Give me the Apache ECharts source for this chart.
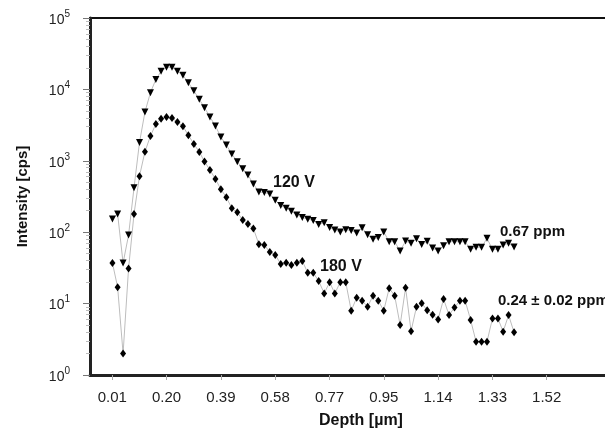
<!DOCTYPE html>
<html>
<head>
<meta charset="utf-8">
<script src="https://cdn.jsdelivr.net/npm/echarts@6/dist/echarts.min.js"></script>
<style>
    html, body { margin: 0; padding: 0; background: #fff; }
    #chart { width: 605px; height: 439px; }
</style>
</head>
<body>
<div id="chart"></div>
<script>
// depth of each measured point [um]
var depth = [
    0.011, 0.029, 0.048, 0.067, 0.086, 0.105, 0.124, 0.143, 0.162, 0.180,
    0.199, 0.218, 0.237, 0.256, 0.275, 0.294, 0.313, 0.331, 0.350, 0.369,
    0.388, 0.407, 0.426, 0.445, 0.464, 0.482, 0.501, 0.520, 0.539, 0.558,
    0.577, 0.596, 0.615, 0.633, 0.652, 0.671, 0.690, 0.709, 0.728, 0.747,
    0.766, 0.784, 0.803, 0.822, 0.841, 0.860, 0.879, 0.898, 0.917, 0.935,
    0.954, 0.973, 0.992, 1.011, 1.030, 1.049, 1.068, 1.086, 1.105, 1.124,
    1.143, 1.162, 1.181, 1.200, 1.219, 1.237, 1.256, 1.275, 1.294, 1.313,
    1.332, 1.351, 1.369, 1.388, 1.407
];
// intensity [cps], 120 V
var v120 = [
    153, 180, 37, 91, 420, 1800, 4820, 9000, 13800, 17900,
    20400, 20400, 17900, 15800, 12400, 9560, 7250, 5550, 4120, 3070,
    2150, 1660, 1250, 970, 775, 632, 473, 366, 360, 343,
    280, 237, 216, 197, 174, 161, 152, 146, 128, 136,
    116, 107, 101, 108, 106, 97.5, 115, 92, 79.5, 84,
    101, 73.6, 73.6, 54.5, 75, 70, 81, 67, 74.6, 60,
    54.5, 64.5, 73.6, 73.6, 73.6, 73.6, 57.6, 61.5, 61.5, 82,
    57.6, 57.6, 66, 70, 62
];
// intensity [cps], 180 V
var v180 = [
    37, 17, 2, 31, 180, 610, 1340, 2220, 3280, 3890,
    4100, 3980, 3490, 3040, 2280, 1720, 1330, 975, 743, 556,
    398, 308, 216, 190, 148, 130, 113, 68, 66, 53,
    48, 36, 37.4, 34.7, 37.4, 39.5, 27, 27, 20.7, 13.9,
    19.9, 13.9, 19.9, 19.9, 7.95, 12.1, 11, 9.05, 12.9, 11,
    7.95, 16.4, 12.9, 5.0, 16.7, 4.1, 9.05, 10.1, 8.1, 7.0,
    6.0, 11.6, 6.9, 8.8, 11, 11, 5.9, 2.93, 2.93, 2.93,
    6.2, 6.2, 4.04, 6.9, 3.96
];
var xTickLabels = ['0.01', '0.20', '0.39', '0.58', '0.77', '0.95', '1.14', '1.33', '1.52'];
var xTickValues = [0.0105, 0.19925, 0.388, 0.57675, 0.7655, 0.95425, 1.143, 1.33175, 1.5205];
var yMajor = [1, 10, 100, 1000, 10000, 100000];

var yMinor = [];
for (var d = 0; d < yMajor.length - 1; d++) {
    for (var m = 2; m <= 9; m++) {
        yMinor.push(m * yMajor[d]);
    }
}

function pairs(vals) {
    var out = [];
    for (var i = 0; i < vals.length; i++) {
        out.push([depth[i], vals[i]]);
    }
    return out;
}

var FONT = 'Liberation Sans, Arial, Helvetica, sans-serif';
var myChart = echarts.init(document.getElementById('chart'), null, { renderer: 'canvas' });

var option = {
    animation: false,
    textStyle: { fontFamily: FONT },
    grid: {
        left: 90, top: 18, width: 542, height: 357,
        show: true, borderColor: '#111', borderWidth: 2,
        outerBoundsMode: 'none', containLabel: false
    },
    xAxis: {
        type: 'value',
        min: -0.067,
        max: 1.817,
        name: 'Depth [\u00b5m]',
        nameLocation: 'middle',
        nameGap: 38,
        nameTextStyle: { fontFamily: FONT, fontWeight: 'bold', fontSize: 16, color: '#111' },
        axisLine: { show: true, onZero: false, lineStyle: { color: '#222', width: 3 } },
        axisTick: { show: true, length: 5, customValues: xTickValues, lineStyle: { color: '#aaa' } },
        axisLabel: {
            customValues: xTickValues,
            margin: 15,
            fontSize: 15,
            color: '#222',
            formatter: function (value) {
                for (var i = 0; i < xTickValues.length; i++) {
                    if (Math.abs(xTickValues[i] - value) < 1e-6) {
                        return xTickLabels[i];
                    }
                }
                return '';
            }
        },
        splitLine: { show: false }
    },
    yAxis: [{
        type: 'log',
        logBase: 10,
        min: 1,
        max: 100000,
        name: 'Intensity [cps]',
        nameLocation: 'middle',
        nameGap: 60,
        nameTextStyle: { fontFamily: FONT, fontWeight: 'bold', fontSize: 15, color: '#111' },
        axisLine: { show: true, onZero: false, lineStyle: { color: '#222', width: 3 } },
        axisTick: { show: true, length: 7, customValues: yMajor, lineStyle: { color: '#777' } },
        axisLabel: {
            customValues: yMajor,
            margin: 20,
            color: '#222',
            formatter: function (value) {
                return '{b|10}{s|' + Math.round(Math.log10(value)) + '}';
            },
            rich: {
                b: { fontSize: 14, color: '#222', lineHeight: 18, verticalAlign: 'bottom', fontFamily: FONT },
                s: { fontSize: 10, color: '#222', lineHeight: 18, verticalAlign: 'top', fontFamily: FONT }
            }
        },
        splitLine: { show: false }
    }, {
        type: 'log',
        logBase: 10,
        min: 1,
        max: 100000,
        position: 'left',
        axisLine: { show: false, onZero: false },
        axisTick: { show: true, length: 4, customValues: yMinor, lineStyle: { color: '#bbb' } },
        axisLabel: { show: false },
        splitLine: { show: false }
    }],
    series: [{
        name: '120 V',
        type: 'line',
        data: pairs(v120),
        symbol: 'triangle',
        symbolRotate: 180,
        symbolSize: 7,
        showAllSymbol: true,
        itemStyle: { color: '#000' },
        lineStyle: { color: '#bdbdbd', width: 1 }
    }, {
        name: '180 V',
        type: 'line',
        data: pairs(v180),
        symbol: 'diamond',
        symbolSize: [6, 8],
        showAllSymbol: true,
        itemStyle: { color: '#000' },
        lineStyle: { color: '#bdbdbd', width: 1 }
    }],
    graphic: [
        { type: 'text', x: 273, y: 183, style: { text: '120 V', font: 'bold 16px ' + FONT, fill: '#111', verticalAlign: 'middle' } },
        { type: 'text', x: 320, y: 267, style: { text: '180 V', font: 'bold 16px ' + FONT, fill: '#111', verticalAlign: 'middle' } },
        { type: 'text', x: 500, y: 232, style: { text: '0.67 ppm', font: 'bold 15px ' + FONT, fill: '#111', verticalAlign: 'middle' } },
        { type: 'text', x: 498, y: 301, style: { text: '0.24 \u00b1 0.02 ppm', font: 'bold 15px ' + FONT, fill: '#111', verticalAlign: 'middle' } }
    ]
};

if (option && typeof option === 'object') {
    myChart.setOption(option, true);
}
</script>
</body>
</html>
